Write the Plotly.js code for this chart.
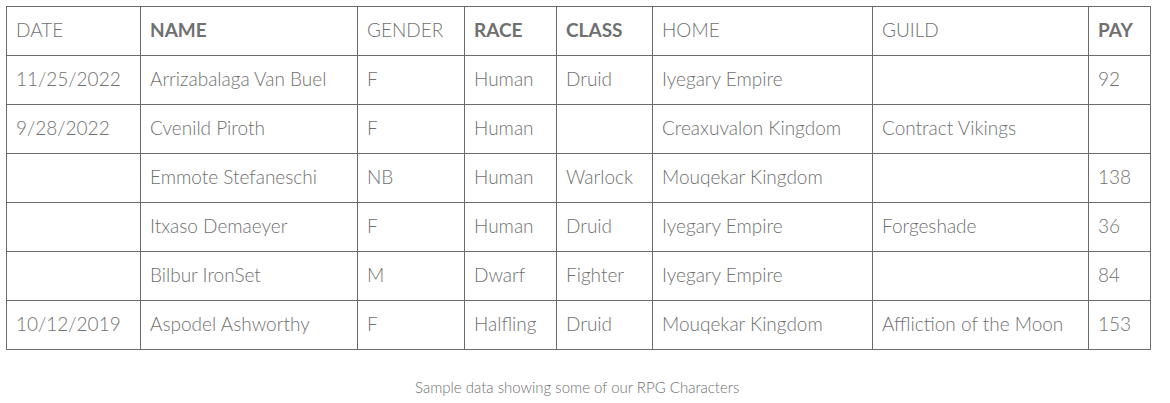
<!DOCTYPE html>
<html>
<head>
<meta charset="utf-8">
<script src="https://cdn.plot.ly/plotly-3.0.1.min.js"></script>
<style>html,body{margin:0;padding:0;background:#fff}#chart{width:1170px;height:403px}</style>
</head>
<body>
<div id="chart"></div>
<script>
const headers = ['DATE', 'NAME', 'GENDER', 'RACE', 'CLASS', 'HOME', 'GUILD', 'PAY'];
const boldHeaders = [false, true, false, true, true, false, false, true];
const dates   = ['11/25/2022', '9/28/2022', '', '', '', '10/12/2019'];
const names   = ['Arrizabalaga Van Buel', 'Cvenild Piroth', 'Emmote Stefaneschi', 'Itxaso Demaeyer', 'Bilbur IronSet', 'Aspodel Ashworthy'];
const genders = ['F', 'F', 'NB', 'F', 'M', 'F'];
const races   = ['Human', 'Human', 'Human', 'Human', 'Dwarf', 'Halfling'];
const classes = ['Druid', '', 'Warlock', 'Druid', 'Fighter', 'Druid'];
const homes   = ['Iyegary Empire', 'Creaxuvalon Kingdom', 'Mouqekar Kingdom', 'Iyegary Empire', 'Iyegary Empire', 'Mouqekar Kingdom'];
const guilds  = ['', 'Contract Vikings', '', 'Forgeshade', '', 'Affliction of the Moon'];
const pay     = ['92', '', '138', '36', '84', '153'];

const colWidths = [134, 217, 107, 92, 96, 220, 216, 62];
const LINE = '#6b6b6b';
const TEXT = '#707070';
const W = 1170, H = 403;
const cols = [dates, names, genders, races, classes, homes, guilds, pay];
const blankCols = cols.map(c => c.map(() => ''));
const font = { family: 'Lato, sans-serif', size: 19, color: TEXT, weight: 300 };
const none = { color: 'rgba(0,0,0,0)', width: 0 };
const clear = { color: 'rgba(0,0,0,0)' };

function dom(dx, dy) {
  return { x: [(6 + dx) / W, (1150 + dx) / W], y: [1 - (352 + dy) / H, 1 - (6 + dy) / H] };
}

// grid only
const grid = {
  type: 'table', columnwidth: colWidths, domain: dom(0, 0),
  header: { values: headers.map(() => ''), height: 49, line: { color: LINE, width: 1 }, fill: { color: '#fff' } },
  cells: { values: blankCols, height: 49, line: { color: LINE, width: 1 }, fill: { color: '#fff' } },
};

// light text, nudged down to sit centred in the rows
const lightText = {
  type: 'table', columnwidth: colWidths, domain: dom(2, 9),
  header: { values: headers.map((h, i) => boldHeaders[i] ? '' : h), align: 'left', height: 49, line: none, fill: clear, font },
  cells: { values: cols, align: 'left', height: 49, line: none, fill: clear, font },
};

// bold header labels
const boldText = {
  type: 'table', columnwidth: colWidths, domain: dom(2, 4),
  header: { values: headers.map((h, i) => boldHeaders[i] ? '<b>' + h + '</b>' : ''), align: 'left', height: 49, line: none, fill: clear, font },
  cells: { values: blankCols, align: 'left', height: 49, line: none, fill: clear, font },
};

const layout = {
  width: W, height: H,
  margin: { t: 0, r: 0, b: 0, l: 0 },
  paper_bgcolor: '#fff',
  annotations: [{
    xref: 'paper', yref: 'paper', x: 577 / W, y: 1 - 398 / H,
    text: 'Sample data showing some of our RPG Characters',
    showarrow: false,
    font: { family: 'Lato, sans-serif', size: 15, color: TEXT, weight: 300 },
  }],
};

Plotly.newPlot('chart', [grid, lightText, boldText], layout, { displayModeBar: false, staticPlot: true });
</script>
</body>
</html>
